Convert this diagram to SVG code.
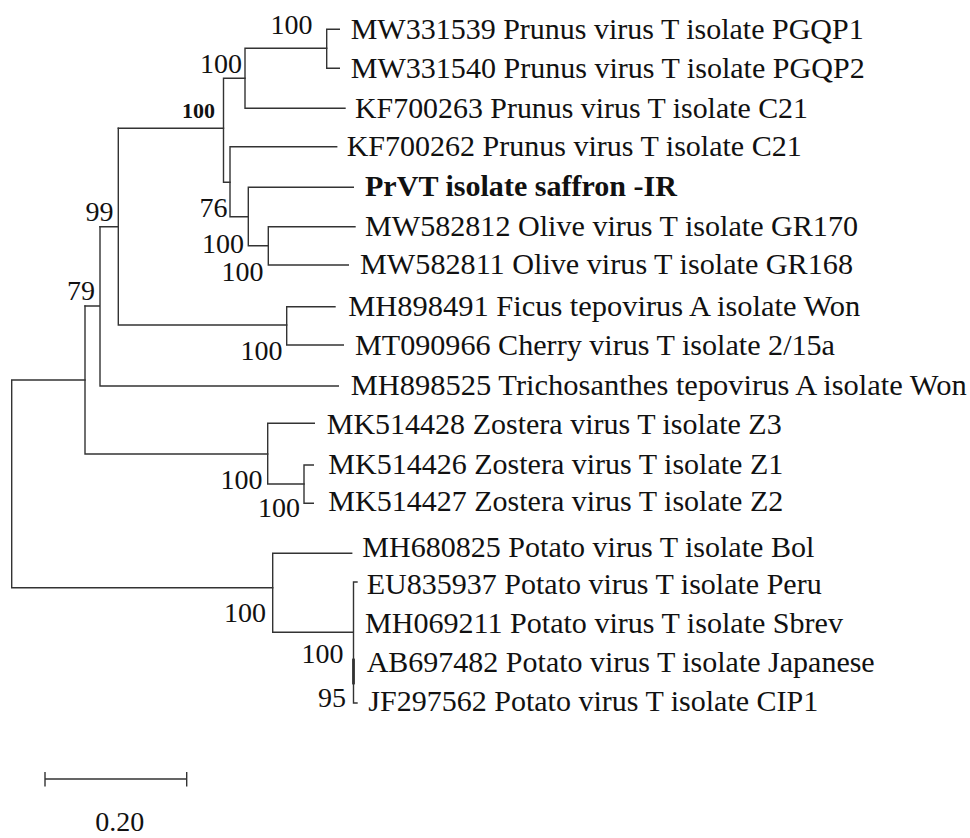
<svg xmlns="http://www.w3.org/2000/svg" width="970" height="838" viewBox="0 0 970 838">
<style>
.b{fill:none;stroke:#333;stroke-width:1.4;stroke-linecap:square}
.t{font-family:"Liberation Serif","Times New Roman",serif;font-size:29.5px;fill:#111}
.s{font-family:"Liberation Serif","Times New Roman",serif;font-size:28px;fill:#111;text-anchor:end}
.bs{font-family:"Liberation Serif","Times New Roman",serif;font-size:22px;font-weight:bold;fill:#111;text-anchor:end}
</style>
<rect width="970" height="838" fill="#fff"/>
<g id="connectors">
<path class="b" d="M326.7,29.3V68.3M326.7,29.3H339.3M326.7,68.3H339.3"/>
<path class="b" d="M245,48.3V108.3M245,48.3H326.7M245,108.3H345"/>
<path class="b" d="M223.5,78.3V182.3M223.5,78.3H245M223.5,182.3H230"/>
<path class="b" d="M118.3,128.3H223.5"/>
<path class="b" d="M230,146.7V216.7M230,146.7H336.7M230,216.7H248.3"/>
<path class="b" d="M248.3,187.3V245.7M248.3,187.3H353.3M248.3,245.7H268.3"/>
<path class="b" d="M268.3,226.7V265M268.3,226.7H355M268.3,265H348.3"/>
<path class="b" d="M118.3,128.3V325M100,226.7H118.3M118.3,325H286.7"/>
<path class="b" d="M286.7,306.7V345M286.7,306.7H335M286.7,345H343.3"/>
<path class="b" d="M100,226.7V386M100,386H338.3M85,306H100"/>
<path class="b" d="M85,306V454M85,454H267.7"/>
<path class="b" d="M267.7,423.3V484M267.7,423.3H314.3M267.7,484H304"/>
<path class="b" d="M304,465V503.3M304,465H313.3M304,503.3H313.3"/>
<path class="b" d="M11.7,380V587.7M11.7,380H85M11.7,587.7H272.7"/>
<path class="b" d="M272.7,553.3V632.3M272.7,553.3H351.7M272.7,632.3H353.3"/>
<path class="b" d="M353.5,582V703M353.5,582H357M353.5,703H357"/>
<path class="b" style="stroke-width:2.8" d="M353.5,660V683"/>
</g>
<g id="leaves">
<g id="n1"><text class="t" x="350.7" y="38.8" textLength="513" lengthAdjust="spacingAndGlyphs">MW331539 Prunus virus T isolate PGQP1</text></g>
<g id="n2"><text class="t" x="350.7" y="77.6" textLength="514" lengthAdjust="spacingAndGlyphs">MW331540 Prunus virus T isolate PGQP2</text></g>
<g id="n3"><text class="t" x="355" y="117.5" textLength="453" lengthAdjust="spacingAndGlyphs">KF700263 Prunus virus T isolate C21</text></g>
<g id="n4"><text class="t" x="346.7" y="156" textLength="455" lengthAdjust="spacingAndGlyphs">KF700262 Prunus virus T isolate C21</text></g>
<g id="n5"><text class="t" x="365" y="196" textLength="312" lengthAdjust="spacingAndGlyphs" style="font-weight:bold">PrVT isolate saffron -IR</text></g>
<g id="n6"><text class="t" x="365" y="235.5" textLength="493" lengthAdjust="spacingAndGlyphs">MW582812 Olive virus T isolate GR170</text></g>
<g id="n7"><text class="t" x="360" y="274" textLength="493" lengthAdjust="spacingAndGlyphs">MW582811 Olive virus T isolate GR168</text></g>
<g id="n8"><text class="t" x="348.3" y="315.5" textLength="512" lengthAdjust="spacingAndGlyphs">MH898491 Ficus tepovirus A isolate Won</text></g>
<g id="n9"><text class="t" x="355" y="354.5" textLength="480" lengthAdjust="spacingAndGlyphs">MT090966 Cherry virus T isolate 2/15a</text></g>
<g id="n10"><text class="t" x="350.7" y="395" textLength="616" lengthAdjust="spacingAndGlyphs">MH898525 Trichosanthes tepovirus A isolate Won</text></g>
<g id="n11"><text class="t" x="326.7" y="433.5" textLength="455" lengthAdjust="spacingAndGlyphs">MK514428 Zostera virus T isolate Z3</text></g>
<g id="n12"><text class="t" x="328.3" y="474" textLength="455" lengthAdjust="spacingAndGlyphs">MK514426 Zostera virus T isolate Z1</text></g>
<g id="n13"><text class="t" x="328.3" y="511" textLength="455" lengthAdjust="spacingAndGlyphs">MK514427 Zostera virus T isolate Z2</text></g>
<g id="n14"><text class="t" x="362.3" y="557" textLength="452" lengthAdjust="spacingAndGlyphs">MH680825 Potato virus T isolate Bol</text></g>
<g id="n15"><text class="t" x="366.7" y="594" textLength="455" lengthAdjust="spacingAndGlyphs">EU835937 Potato virus T isolate Peru</text></g>
<g id="n16"><text class="t" x="365" y="633" textLength="478" lengthAdjust="spacingAndGlyphs">MH069211 Potato virus T isolate Sbrev</text></g>
<g id="n17"><text class="t" x="366.7" y="672" textLength="508" lengthAdjust="spacingAndGlyphs">AB697482 Potato virus T isolate Japanese</text></g>
<g id="n18"><text class="t" x="368.3" y="711" textLength="450" lengthAdjust="spacingAndGlyphs">JF297562 Potato virus T isolate CIP1</text></g>
</g>
<g id="support">
<text class="s" x="312.5" y="34.3">100</text>
<text class="s" x="242" y="72.7">100</text>
<text class="bs" x="215" y="117.7">100</text>
<text class="s" x="227.5" y="216.7">76</text>
<text class="s" x="244" y="252.7">100</text>
<text class="s" x="263.5" y="281">100</text>
<text class="s" x="113.5" y="221">99</text>
<text class="s" x="95" y="300">79</text>
<text class="s" x="282.5" y="360">100</text>
<text class="s" x="262.5" y="489.3">100</text>
<text class="s" x="300" y="516.7">100</text>
<text class="s" x="266" y="621.7">100</text>
<text class="s" x="343.5" y="663.3">100</text>
<text class="s" x="346" y="706.7">95</text>
</g>
<g id="scale">
<path class="b" d="M45,779H186.7M45,772.7V785.7M186.7,772.7V785.7"/>
<text class="t" x="119.7" y="831" text-anchor="middle" style="font-size:28px">0.20</text>
</g>
</svg>
